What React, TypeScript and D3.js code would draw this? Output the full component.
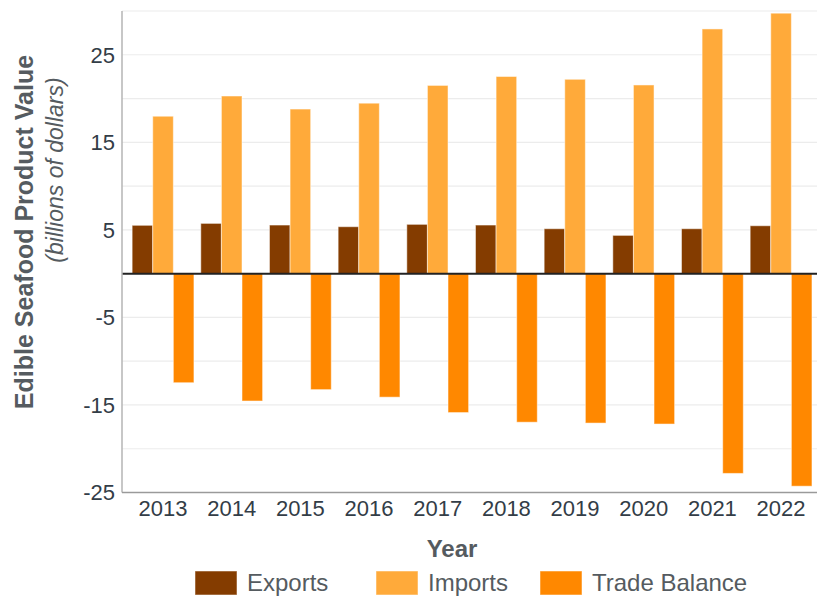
import React from "react";
import * as d3 from "d3";

const years = ["2013", "2014", "2015", "2016", "2017", "2018", "2019", "2020", "2021", "2022"];
const exportsVals = [5.52, 5.74, 5.55, 5.36, 5.63, 5.55, 5.13, 4.37, 5.13, 5.47];
const importsVals = [17.98, 20.29, 18.8, 19.47, 21.5, 22.52, 22.2, 21.55, 27.95, 29.75];
const tradeVals = [-12.46, -14.55, -13.25, -14.11, -15.87, -16.97, -17.07, -17.18, -22.82, -24.28];
const seriesNames = ["Exports", "Imports", "Trade Balance"];
const seriesColors = ["#843c00", "#ffaa3a", "#ff8800"];
const yTickLabels = [25, 15, 5, -5, -15, -25];
const gridValues = [30, 25, 20, 15, 10, 5, -5, -10, -15, -20];

const W = 817;
const H = 597;
const plotLeft = 122;
const plotRight = 817;
const plotTop = 11;
const plotBottom = 492.5;

export default function App() {
  const y = d3.scaleLinear().domain([-25, 30]).range([plotBottom, plotTop]);
  const x = d3
    .scaleBand<string>()
    .domain(years)
    .range([128.7, 815.4])
    .paddingInner(0.1)
    .paddingOuter(0.05);
  const inner = d3
    .scaleBand<number>()
    .domain([0, 1, 2])
    .range([0, x.bandwidth()]);
  const series = [exportsVals, importsVals, tradeVals];
  const font = "'Liberation Sans', Arial, sans-serif";
  const tickColor = "#333d47";
  const titleColor = "#555b60";

  const legendItems = [
    { x: 195, label: seriesNames[0], color: seriesColors[0] },
    { x: 376, label: seriesNames[1], color: seriesColors[1] },
    { x: 540, label: seriesNames[2], color: seriesColors[2] },
  ];

  return (
    <svg
      width={W}
      height={H}
      style={{ position: "absolute", left: 0, top: 0, background: "#fff" }}
      fontFamily={font}
    >
      {gridValues.map((v) => (
        <line
          key={"g" + v}
          x1={plotLeft}
          x2={plotRight}
          y1={y(v)}
          y2={y(v)}
          stroke="#ececec"
          strokeWidth={1.2}
        />
      ))}
      {series.map((vals, si) =>
        vals.map((v, i) => {
          const x0 = (x(years[i]) as number) + (inner(si) as number);
          const top = Math.min(y(v), y(0));
          const h = Math.abs(y(v) - y(0));
          return (
            <rect
              key={si + "-" + i}
              x={x0}
              y={top}
              width={inner.bandwidth()}
              height={h}
              fill={seriesColors[si]}
              stroke="rgba(255,255,255,0.5)"
              strokeWidth={1}
            />
          );
        })
      )}
      <line x1={plotLeft} x2={plotRight} y1={y(0)} y2={y(0)} stroke="#222" strokeWidth={2} />
      <line x1={plotLeft} x2={plotLeft} y1={plotTop} y2={plotBottom} stroke="#b4b4b4" strokeWidth={1.5} />
      <line x1={plotLeft} x2={plotRight} y1={plotBottom} y2={plotBottom} stroke="#9a9a9a" strokeWidth={1.5} />
      {yTickLabels.map((v) => (
        <text
          key={"yt" + v}
          x={115}
          y={y(v)}
          dy="0.36em"
          textAnchor="end"
          fontSize={22}
          fill={tickColor}
        >
          {v}
        </text>
      ))}
      {years.map((yr) => (
        <text
          key={"xt" + yr}
          x={(x(yr) as number) + x.bandwidth() / 2}
          y={516}
          textAnchor="middle"
          fontSize={22}
          fill={tickColor}
        >
          {yr}
        </text>
      ))}
      <text x={452} y={557} textAnchor="middle" fontSize={24} fontWeight="bold" fill={titleColor}>
        Year
      </text>
      <text
        transform="translate(33,232) rotate(-90)"
        textAnchor="middle"
        fontSize={25}
        fontWeight="bold"
        fill={titleColor}
      >
        Edible Seafood Product Value
      </text>
      <text
        transform="translate(63,170) rotate(-90)"
        textAnchor="middle"
        fontSize={23}
        fontStyle="italic"
        fill={titleColor}
      >
        (billions of dollars)
      </text>
      {legendItems.map((it) => (
        <g key={it.label}>
          <rect x={it.x} y={571} width={42} height={24} fill={it.color} stroke="rgba(255,255,255,0.5)" />
          <text x={it.x + 52} y={591} fontSize={24} fill={titleColor}>
            {it.label}
          </text>
        </g>
      ))}
    </svg>
  );
}
